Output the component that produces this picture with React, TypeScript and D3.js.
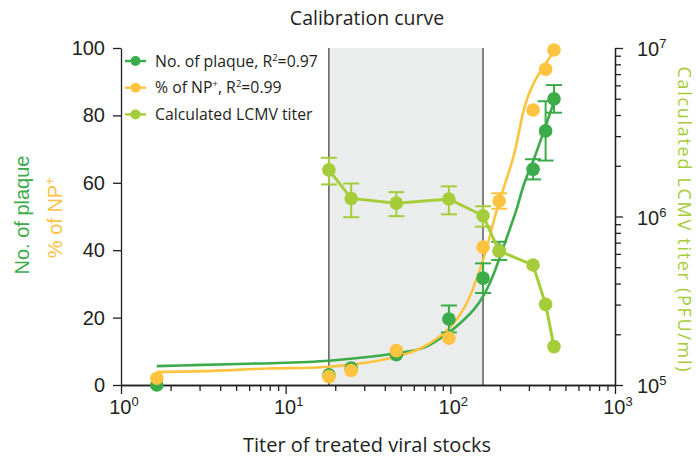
import React, { useEffect, useRef } from 'react';
import * as d3 from 'd3';

// titer of treated viral stocks (x, log scale)
const doses = [1.65, 18.3, 25, 47, 98, 158, 198, 318, 379, 426];

// No. of plaque (left axis)
const plaqueMean = [0, 3, 5, 9, 19.6, 31.7, 39.8, 64, 75.4, 84.9];
const plaqueErr = [0, 0, 0, 0, 4, 4.4, 2.7, 3, 8.8, 4.1];

// % of NP+ (left axis)
const npMean = [2.0, 2.5, 4.3, 10.2, 13.9, 40.9, 54.6, 81.6, 93.7, 99.4];
const npErr = [0, 0, 0, 0, 0, 0, 2.3, 0, 0, 0];

// calculated LCMV titer (right axis, PFU/ml), measured from the 2nd dose on
const titerDoses = [18.3, 25, 47, 98, 158, 198, 318, 379, 426];
const titerMean = [1.89e6, 1.28e6, 1.2e6, 1.27e6, 1.01e6, 6.24e5, 5.15e5, 3.01e5, 1.69e5];
const titerErr = [3.4e5, 2.9e5, 1.95e5, 2.4e5, 1.4e5, 0, 0, 0, 0];

// fitted curves
const plaqueFitX = [1.65, 2.77, 7.05, 18.3, 47, 69, 98, 120, 140, 158, 180, 212, 250, 281, 323, 381, 430];
const plaqueFitY = [5.6, 5.9, 6.4, 7.2, 9.4, 11.1, 15.6, 19.2, 22.6, 26.3, 32, 41.5, 51.5, 59.8, 67.3, 77.2, 84.6];
const npFitX = [1.65, 3.58, 7.74, 18.3, 47, 69, 98, 124, 158, 194, 244, 284, 320, 358, 432];
const npFitY = [3.9, 4.2, 4.9, 5.4, 8.4, 11.4, 16.8, 23.7, 37.1, 52.9, 68.5, 83, 89.5, 93.5, 99.4];

// shaded linear range
const rangeStart = 18.3;
const rangeEnd = 158;

const leftTicks = [0, 20, 40, 60, 80, 100];
const xMajor = [1, 10, 100, 1000];
const rightMajor = [1e5, 1e6, 1e7];

const GREEN = '#3cab4a';
const YELLOW = '#fec33f';
const LIME = '#a5cd3a';
const INK = '#231f20';
const ARIAL = '"Liberation Sans", Arial, sans-serif';
const SANS = '"Open Sans", sans-serif';

function CalibrationChart() {
  const ref = useRef<SVGSVGElement>(null);

  useEffect(() => {
    const svg = d3.select(ref.current);
    svg.selectAll('*').remove();

    const x = d3.scaleLog().domain([1, 1000]).range([121, 615]);
    const y = d3.scaleLinear().domain([0, 100]).range([385, 48]);
    const yR = d3.scaleLog().domain([1e5, 1e7]).range([385, 48]);

    // shaded region + its borders
    svg.append('rect')
      .attr('x', x(rangeStart))
      .attr('y', y(100))
      .attr('width', x(rangeEnd) - x(rangeStart))
      .attr('height', y(0) - y(100))
      .attr('fill', '#ebedec');
    [rangeStart, rangeEnd].forEach(v => {
      svg.append('line')
        .attr('x1', x(v)).attr('x2', x(v))
        .attr('y1', y(100)).attr('y2', y(0))
        .attr('stroke', '#444').attr('stroke-width', 1.3);
    });

    // axes
    const minorX: number[] = [];
    [1, 10, 100].forEach(d => { for (let k = 2; k <= 9; k++) minorX.push(k * d); });
    const minorR: number[] = [];
    [1e5, 1e6].forEach(d => { for (let k = 2; k <= 9; k++) minorR.push(k * d); });

    const styleAxis = (g: any) => {
      g.attr('color', INK);
      g.selectAll('path, line').attr('stroke-width', 1.3);
      g.selectAll('text').remove();
    };

    svg.append('g').attr('transform', 'translate(0,385)')
      .call(d3.axisBottom(x).tickValues(minorX).tickSize(6).tickSizeOuter(0))
      .call(styleAxis);
    svg.append('g').attr('transform', 'translate(0,385)')
      .call(d3.axisBottom(x).tickValues(xMajor).tickSize(9).tickSizeOuter(0))
      .call(styleAxis);

    svg.append('g').attr('transform', 'translate(121,0)')
      .call(d3.axisLeft(y).tickValues(leftTicks).tickSize(8).tickSizeOuter(0))
      .call(styleAxis);

    svg.append('g').attr('transform', 'translate(615,0)')
      .call(d3.axisRight(yR).tickValues(minorR).tickSize(6).tickSizeOuter(0))
      .call(styleAxis);
    svg.append('g').attr('transform', 'translate(615,0)')
      .call(d3.axisRight(yR).tickValues(rightMajor).tickSize(8).tickSizeOuter(0))
      .call(styleAxis);

    // tick labels
    leftTicks.forEach(v => {
      svg.append('text')
        .attr('x', 105).attr('y', y(v) + 7)
        .attr('text-anchor', 'end')
        .attr('font-family', ARIAL).attr('font-size', 20).attr('fill', INK)
        .text(v);
    });

    const powerLabel = (px: number, py: number, exp: number, anchor: string) => {
      const t = svg.append('text')
        .attr('x', px).attr('y', py)
        .attr('text-anchor', anchor)
        .attr('font-family', ARIAL).attr('font-size', 20).attr('fill', INK);
      t.append('tspan').text('10');
      t.append('tspan').attr('dy', -8).attr('font-size', 13).text(exp);
    };
    xMajor.forEach(v => powerLabel(x(v) + 3, 414, Math.round(Math.log10(v)), 'middle'));
    rightMajor.forEach(v => powerLabel(637, yR(v) + 8, Math.round(Math.log10(v)), 'start'));

    // fitted curves
    const fit = d3.line<[number, number]>()
      .x(d => x(d[0]))
      .y(d => y(d[1]))
      .curve(d3.curveCatmullRom.alpha(0.5));
    svg.append('path')
      .datum(plaqueFitX.map((v, i) => [v, plaqueFitY[i]] as [number, number]))
      .attr('fill', 'none').attr('stroke', GREEN).attr('stroke-width', 2.6)
      .attr('d', fit);
    svg.append('path')
      .datum(npFitX.map((v, i) => [v, npFitY[i]] as [number, number]))
      .attr('fill', 'none').attr('stroke', YELLOW).attr('stroke-width', 2.6)
      .attr('d', fit);

    const errorBars = (xs: number[], ms: number[], es: number[], sy: any, color: string) => {
      xs.forEach((v, i) => {
        if (!es[i]) return;
        const cx = x(v);
        const y1 = sy(ms[i] + es[i]);
        const y2 = sy(ms[i] - es[i]);
        svg.append('line').attr('x1', cx).attr('x2', cx).attr('y1', y1).attr('y2', y2)
          .attr('stroke', color).attr('stroke-width', 2);
        [y1, y2].forEach(yy => {
          svg.append('line').attr('x1', cx - 8).attr('x2', cx + 8).attr('y1', yy).attr('y2', yy)
            .attr('stroke', color).attr('stroke-width', 2);
        });
      });
    };
    const dots = (xs: number[], ms: number[], sy: any, color: string) => {
      svg.append('g').selectAll('circle')
        .data(xs)
        .join('circle')
        .attr('cx', d => x(d))
        .attr('cy', (d, i) => sy(ms[i]))
        .attr('r', 6.8)
        .attr('fill', color);
    };

    errorBars(doses, plaqueMean, plaqueErr, y, GREEN);
    dots(doses, plaqueMean, y, GREEN);
    errorBars(doses, npMean, npErr, y, YELLOW);
    dots(doses, npMean, y, YELLOW);

    // calculated titer (right axis)
    errorBars(titerDoses, titerMean, titerErr, yR, LIME);
    svg.append('path')
      .datum(titerDoses.map((v, i) => [v, titerMean[i]] as [number, number]))
      .attr('fill', 'none').attr('stroke', LIME).attr('stroke-width', 3)
      .attr('d', d3.line<[number, number]>().x(d => x(d[0])).y(d => yR(d[1])));
    dots(titerDoses, titerMean, yR, LIME);

    // legend
    const legend = [
      { color: GREEN, label: ['No. of plaque, R', '2', '=0.97'] },
      { color: YELLOW, label: ['% of NP', '+', ', R', '2', '=0.99'] },
      { color: LIME, label: ['Calculated LCMV titer'] },
    ];
    legend.forEach((item, i) => {
      const ly = 61 + i * 26.7;
      svg.append('line').attr('x1', 125).attr('x2', 146).attr('y1', ly).attr('y2', ly)
        .attr('stroke', item.color).attr('stroke-width', 2.4);
      svg.append('circle').attr('cx', 135.5).attr('cy', ly).attr('r', 5).attr('fill', item.color);
      const t = svg.append('text')
        .attr('x', 155).attr('y', ly + 5.5)
        .attr('font-family', SANS).attr('font-size', 15.8).attr('fill', INK);
      let sup = false;
      item.label.forEach(part => {
        const isSup = part === '2' || part === '+';
        const ts = t.append('tspan').text(part);
        if (isSup) ts.attr('font-size', 9.5).attr('dy', -6);
        else if (sup) ts.attr('dy', 6);
        sup = isSup;
      });
    });

    // titles
    svg.append('text')
      .attr('x', 367).attr('y', 25)
      .attr('text-anchor', 'middle')
      .attr('font-family', SANS).attr('font-size', 19.5).attr('fill', INK)
      .text('Calibration curve');

    svg.append('text')
      .attr('x', 367).attr('y', 452)
      .attr('text-anchor', 'middle')
      .attr('font-family', SANS).attr('font-size', 20).attr('fill', INK)
      .text('Titer of treated viral stocks');

    svg.append('text')
      .attr('transform', 'translate(29,215) rotate(-90)')
      .attr('text-anchor', 'middle')
      .attr('font-family', ARIAL).attr('font-size', 20).attr('fill', GREEN)
      .text('No. of plaque');

    const np = svg.append('text')
      .attr('transform', 'translate(62,218) rotate(-90)')
      .attr('text-anchor', 'middle')
      .attr('font-family', ARIAL).attr('font-size', 20).attr('fill', YELLOW);
    np.append('tspan').text('% of NP');
    np.append('tspan').attr('font-size', 12).attr('dy', -8).text('+');

    svg.append('text')
      .attr('transform', 'translate(678,219) rotate(90)')
      .attr('text-anchor', 'middle')
      .attr('font-family', SANS).attr('font-size', 18).attr('fill', LIME)
      .attr('textLength', 305).attr('lengthAdjust', 'spacing')
      .text('Calculated LCMV titer (PFU/ml)');
  }, []);

  return (
    <svg
      ref={ref}
      width={696}
      height={458}
      style={{ position: 'absolute', left: 0, top: 0, background: '#fff' }}
    />
  );
}

export default function App() {
  return <CalibrationChart />;
}
